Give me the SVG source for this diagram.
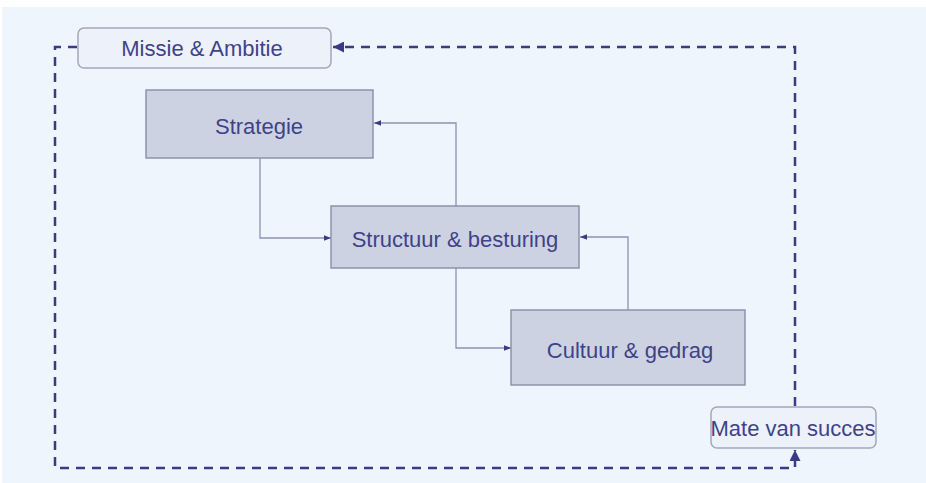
<svg xmlns="http://www.w3.org/2000/svg" width="926" height="483" viewBox="0 0 926 483">
<defs>
<style>
.box{fill:#cdd2e3;stroke:#8e92aa;stroke-width:1.5}
.rbox{fill:#edf1fa;stroke:#a3a7bd;stroke-width:1.5}
.lbl{font-family:"Liberation Sans",Arial,sans-serif;font-size:22px;fill:#3f4288;text-anchor:middle;dominant-baseline:central}
.thin{fill:none;stroke:#8d91b3;stroke-width:1.3}
.dash{fill:none;stroke:#3a3b86;stroke-width:2.5;stroke-dasharray:9,7}
</style>
<marker id="ah" viewBox="0 0 10 10" refX="10" refY="5" markerWidth="7" markerHeight="7" orient="auto" markerUnits="userSpaceOnUse">
<path d="M0,1 L10,5 L0,9 z" fill="#3a3b86"/>
</marker>
<marker id="ahd" viewBox="0 0 10 10" refX="10" refY="5" markerWidth="11" markerHeight="11" orient="auto" markerUnits="userSpaceOnUse">
<path d="M0,0 L10,5 L0,10 z" fill="#3a3b86"/>
</marker>
</defs>
<rect x="0" y="0" width="926" height="483" fill="#ffffff"/>
<rect x="2" y="7" width="924" height="476" fill="#eff5fc"/>
<g id="connectors">
<path class="dash" d="M795,406 L795,47 L333,47" marker-end="url(#ahd)"/>
<path class="dash" d="M77,47 L55,47 L55,468 L795,468 L795,450" marker-end="url(#ahd)"/>
<path class="thin" d="M260,158 L260,238 L331,238" marker-end="url(#ah)"/>
<path class="thin" d="M456,206 L456,123 L374,123" marker-end="url(#ah)"/>
<path class="thin" d="M456,268 L456,348 L511,348" marker-end="url(#ah)"/>
<path class="thin" d="M628,310 L628,237 L580,237" marker-end="url(#ah)"/>
</g>
<g id="missie">
<rect class="rbox" x="78" y="28" width="253" height="40" rx="6"/>
<text class="lbl" x="202" y="48">Missie &amp; Ambitie</text>
</g>
<g id="strategie">
<rect class="box" x="146" y="90" width="227" height="68"/>
<text class="lbl" x="259" y="126">Strategie</text>
</g>
<g id="structuur">
<rect class="box" x="331" y="206" width="248" height="62"/>
<text class="lbl" x="455" y="239">Structuur &amp; besturing</text>
</g>
<g id="cultuur">
<rect class="box" x="511" y="310" width="234" height="75"/>
<text class="lbl" x="630" y="350">Cultuur &amp; gedrag</text>
</g>
<g id="mate">
<rect class="rbox" x="711" y="407" width="165" height="41" rx="6"/>
<text class="lbl" x="793" y="428">Mate van succes</text>
</g>
</svg>
